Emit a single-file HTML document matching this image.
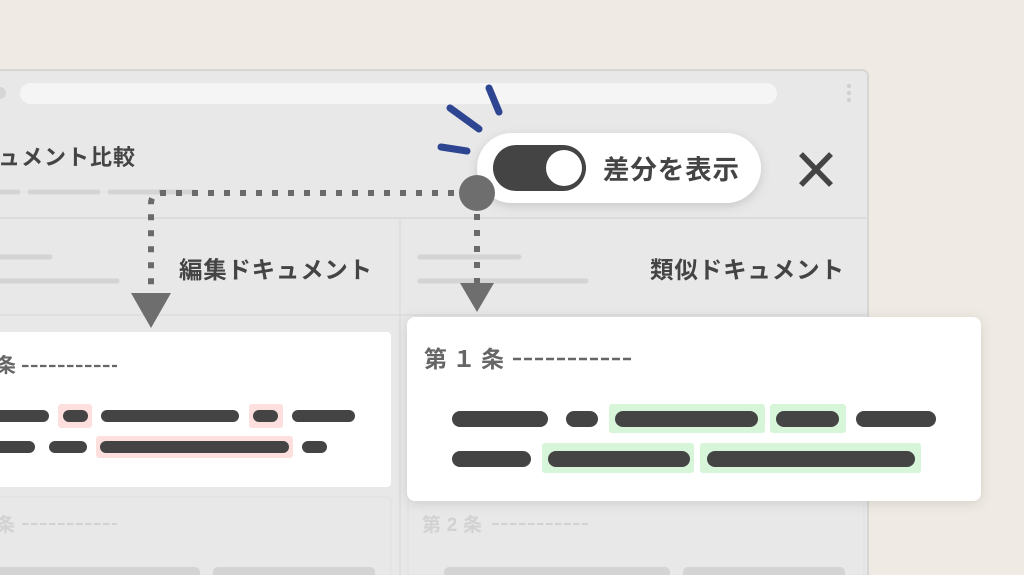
<!DOCTYPE html>
<html><head><meta charset="utf-8"><style>
html,body{margin:0;padding:0;background:#efebe4;}
svg{display:block;}
text{font-family:"Liberation Sans","Noto Sans CJK JP",sans-serif;}
</style></head><body>
<svg width="1024" height="575" viewBox="0 0 1024 575" xmlns="http://www.w3.org/2000/svg">
<defs>
<filter id="sh" x="-10%" y="-20%" width="120%" height="150%"><feDropShadow dx="0" dy="3" stdDeviation="5" flood-color="#000" flood-opacity="0.14"/></filter>
<filter id="sh2" x="-10%" y="-20%" width="120%" height="150%"><feDropShadow dx="0" dy="2" stdDeviation="6" flood-color="#000" flood-opacity="0.12"/></filter>
</defs>
<rect width="1024" height="575" fill="#efebe4"/>
<rect x="-10" y="70" width="878" height="520" rx="6" fill="#e8e8e8" stroke="#d6d6d6" stroke-width="2"/>
<rect x="20" y="83" width="757" height="21" rx="10.5" fill="#f5f5f5"/>
<circle cx="0" cy="93" r="6" fill="#d6d6d6"/>
<circle cx="849" cy="86" r="2.2" fill="#d0d0d0"/><circle cx="849" cy="93" r="2.2" fill="#d0d0d0"/><circle cx="849" cy="100" r="2.2" fill="#d0d0d0"/>
<text x="-2" y="165" font-size="22" font-weight="bold" fill="#444" textLength="137" lengthAdjust="spacing">ュメント比較</text>
<g stroke="#d4d4d4" stroke-width="5" stroke-linecap="round">
<line x1="-5" y1="192" x2="18" y2="192"/><line x1="30" y1="192" x2="98" y2="192"/><line x1="110" y1="192" x2="195" y2="192"/>
<line x1="-5" y1="257" x2="50" y2="257"/><line x1="-5" y1="281" x2="117" y2="281"/>
<line x1="420" y1="257" x2="519" y2="257"/><line x1="420" y1="281" x2="586" y2="281"/>
</g>
<line x1="0" y1="218" x2="868" y2="218" stroke="#d8d8d8" stroke-width="1.5"/>
<line x1="0" y1="315" x2="868" y2="315" stroke="#dcdcdc" stroke-width="1.5"/>
<line x1="400" y1="218" x2="400" y2="575" stroke="#dcdcdc" stroke-width="1.5"/>
<text x="179" y="278" font-size="23.5" font-weight="bold" fill="#444" textLength="193" lengthAdjust="spacing">編集ドキュメント</text>
<text x="650" y="278" font-size="23.5" font-weight="bold" fill="#444" textLength="194" lengthAdjust="spacing">類似ドキュメント</text>
<rect x="-10" y="497" width="401" height="100" rx="4" fill="#e8e8e8" stroke="#e0e0e0"/>
<rect x="408" y="497" width="456" height="100" rx="4" fill="#e8e8e8" stroke="#e0e0e0"/>
<text x="-4" y="531" font-size="19" font-weight="bold" fill="#d2d2d2">条</text>
<line x1="22" y1="524" x2="117" y2="524" stroke="#d2d2d2" stroke-width="2" stroke-dasharray="6.5 2.5"/>
<text x="422" y="531" font-size="19" font-weight="bold" fill="#d2d2d2" textLength="60" lengthAdjust="spacing">第2条</text>
<line x1="492" y1="524" x2="588" y2="524" stroke="#d2d2d2" stroke-width="2" stroke-dasharray="6.5 2.5"/>
<rect x="-10" y="567" width="210" height="20" rx="5" fill="#d4d4d4"/>
<rect x="213" y="567" width="162" height="20" rx="5" fill="#d4d4d4"/>
<rect x="444" y="567" width="226" height="20" rx="5" fill="#d4d4d4"/>
<rect x="683" y="567" width="162" height="20" rx="5" fill="#d4d4d4"/>
<rect x="-10" y="332" width="401" height="155" rx="4" fill="#fff"/>
<text x="-4" y="372" font-size="20" font-weight="bold" fill="#666">条</text>
<line x1="22" y1="366" x2="117" y2="366" stroke="#666" stroke-width="2.2" stroke-dasharray="6.5 2.5"/>
<g fill="#fde0de">
<rect x="58" y="404" width="34" height="24" rx="3"/><rect x="249" y="404" width="34" height="24" rx="3"/>
<rect x="96" y="436" width="197" height="22" rx="3"/>
</g>
<g stroke="#444" stroke-width="12" stroke-linecap="round">
<line x1="-10" y1="416" x2="43" y2="416"/><line x1="69" y1="416" x2="82" y2="416"/><line x1="107" y1="416" x2="233" y2="416"/>
<line x1="259" y1="416" x2="272" y2="416"/><line x1="298" y1="416" x2="349" y2="416"/>
<line x1="-10" y1="447" x2="29" y2="447"/><line x1="55" y1="447" x2="81" y2="447"/><line x1="106" y1="447" x2="283" y2="447"/><line x1="308" y1="447" x2="321" y2="447"/>
</g>
<rect x="407" y="317" width="574" height="184" rx="8" fill="#fff" filter="url(#sh2)"/>
<text x="424" y="367" font-size="23" font-weight="bold" fill="#666" textLength="80" lengthAdjust="spacing">第１条</text>
<line x1="513" y1="359" x2="634" y2="359" stroke="#666" stroke-width="2.5" stroke-dasharray="8 3"/>
<g fill="#d6f5d9">
<rect x="609" y="404" width="156" height="29" rx="3"/><rect x="770" y="404" width="76" height="29" rx="3"/>
<rect x="542" y="443" width="152" height="30" rx="3"/><rect x="700" y="443" width="221" height="30" rx="3"/>
</g>
<g stroke="#444" stroke-width="16" stroke-linecap="round">
<line x1="460" y1="419" x2="540" y2="419"/><line x1="574" y1="419" x2="590" y2="419"/><line x1="623" y1="419" x2="750" y2="419"/>
<line x1="784" y1="419" x2="831" y2="419"/><line x1="864" y1="419" x2="928" y2="419"/>
<line x1="460" y1="459" x2="523" y2="459"/><line x1="556" y1="459" x2="682" y2="459"/><line x1="715" y1="459" x2="907" y2="459"/>
</g>
<g stroke="#6a6a6a" stroke-width="6" fill="none" stroke-dasharray="6 10">
<path d="M470 193 L162 193 Q151 193 151 204 L151 295"/>
<line x1="477" y1="214" x2="477" y2="285"/>
</g>
<polygon points="131,293 171,293 151,328" fill="#6e6e6e"/>
<polygon points="460,283 494,283 477,312" fill="#6e6e6e"/>
<g stroke="#2e4591" stroke-width="7" stroke-linecap="round">
<line x1="489" y1="88" x2="499" y2="112"/><line x1="450" y1="108" x2="479" y2="129"/><line x1="441" y1="147" x2="467" y2="151"/>
</g>
<rect x="477" y="133" width="284" height="70" rx="35" fill="#fff" filter="url(#sh)"/>
<rect x="493" y="145" width="93" height="46" rx="23" fill="#444"/>
<circle cx="564" cy="168" r="18" fill="#fff"/>
<text x="603" y="179" font-size="26.5" font-weight="bold" fill="#444" textLength="136" lengthAdjust="spacing">差分を表示</text>
<circle cx="477" cy="193" r="18" fill="#6e6e6e"/>
<g stroke="#444" stroke-width="5.5"><line x1="801" y1="154" x2="831" y2="185"/><line x1="831" y1="154" x2="801" y2="185"/></g>
</svg>
</body></html>
